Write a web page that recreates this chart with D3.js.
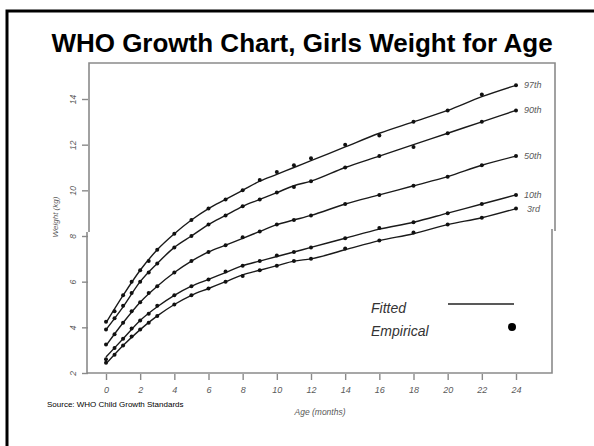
<!DOCTYPE html>
<html>
<head>
<meta charset="utf-8">
<script src="https://cdn.jsdelivr.net/npm/d3@7"></script>
<style>
  body { margin: 0; background: #fff; }
  svg { display: block; font-family: "Liberation Sans", Arial, sans-serif; }
</style>
</head>
<body>
<div id="chart"></div>
<script>
// fitted centile curves (kg)
const fitAges = [0, 1, 2, 3, 4, 5, 6, 7, 8, 9, 10, 11, 12, 14, 16, 18, 20, 22, 24];
const fit3  = [2.4, 3.2, 3.9, 4.5, 5.0, 5.4, 5.7, 6.0, 6.3, 6.5, 6.7, 6.9, 7.0, 7.4, 7.8, 8.1, 8.5, 8.8, 9.2];
const fit10 = [2.7, 3.5, 4.3, 4.9, 5.4, 5.8, 6.1, 6.4, 6.7, 6.9, 7.1, 7.3, 7.5, 7.9, 8.3, 8.6, 9.0, 9.4, 9.8];
const fit50 = [3.2, 4.2, 5.1, 5.8, 6.4, 6.9, 7.3, 7.6, 7.9, 8.2, 8.5, 8.7, 8.9, 9.4, 9.8, 10.2, 10.6, 11.1, 11.5];
const fit90 = [3.9, 4.9, 6.0, 6.8, 7.5, 8.0, 8.5, 8.9, 9.3, 9.6, 9.9, 10.2, 10.4, 11.0, 11.5, 12.0, 12.5, 13.0, 13.5];
const fit97 = [4.2, 5.4, 6.5, 7.4, 8.1, 8.7, 9.2, 9.6, 10.0, 10.4, 10.7, 11.0, 11.3, 11.9, 12.5, 13.0, 13.5, 14.1, 14.6];

// empirical centiles (dots)
const empAges = [0, 0.5, 1, 1.5, 2, 2.5, 3, 4, 5, 6, 7, 8, 9, 10, 11, 12, 14, 16, 18, 20, 22, 24];
const emp3  = [2.45, 2.8, 3.2, 3.6, 3.9, 4.2, 4.5, 5.0, 5.4, 5.7, 6.0, 6.25, 6.5, 6.7, 6.9, 7.0, 7.45, 7.8, 8.15, 8.5, 8.8, 9.2];
const emp10 = [2.6, 3.1, 3.5, 3.95, 4.3, 4.6, 4.95, 5.4, 5.8, 6.1, 6.45, 6.7, 6.9, 7.15, 7.3, 7.5, 7.9, 8.35, 8.6, 9.0, 9.4, 9.8];
const emp50 = [3.25, 3.7, 4.2, 4.7, 5.1, 5.5, 5.8, 6.4, 6.9, 7.3, 7.6, 7.95, 8.2, 8.5, 8.7, 8.9, 9.4, 9.8, 10.2, 10.6, 11.1, 11.5];
const emp90 = [3.9, 4.4, 4.95, 5.5, 6.0, 6.4, 6.8, 7.5, 8.0, 8.5, 8.9, 9.3, 9.6, 9.9, 10.15, 10.4, 11.0, 11.5, 11.9, 12.5, 13.0, 13.5];
const emp97 = [4.25, 4.7, 5.4, 6.0, 6.5, 6.9, 7.4, 8.1, 8.7, 9.2, 9.6, 10.0, 10.45, 10.8, 11.1, 11.4, 12.0, 12.4, 13.0, 13.5, 14.2, 14.6];

const centileLabels = ['97th', '90th', '50th', '10th', '3rd'];
const xTicks = [0, 2, 4, 6, 8, 10, 12, 14, 16, 18, 20, 22, 24];
const yTicks = [2, 4, 6, 8, 10, 12, 14];

const series = [
  { name: centileLabels[0], fit: fit97, emp: emp97 },
  { name: centileLabels[1], fit: fit90, emp: emp90 },
  { name: centileLabels[2], fit: fit50, emp: emp50 },
  { name: centileLabels[3], fit: fit10, emp: emp10 },
  { name: centileLabels[4], fit: fit3,  emp: emp3 }
];

const width = 594, height = 446;
const axisGrey = '#8a8a8a';
const textGrey = '#5a5a5a';

const svg = d3.select('#chart').append('svg')
  .attr('width', width)
  .attr('height', height);

// slide frame
svg.append('rect')
  .attr('x', 7).attr('y', 11)
  .attr('width', 700).attr('height', 700)
  .attr('fill', 'none')
  .attr('stroke', '#000')
  .attr('stroke-width', 3);

const title = svg.append('text')
  .attr('x', 302).attr('y', 52)
  .attr('text-anchor', 'middle')
  .attr('font-size', 26)
  .attr('font-weight', 'bold')
  .attr('fill', '#000')
  .text('WHO Growth Chart, Girls Weight for Age');

const x = d3.scaleLinear().domain([0, 24]).range([106, 516]);
const y = d3.scaleLinear().domain([2, 14]).range([373, 99]);

// plot frame (scanned figure, slightly misaligned pieces)
const frame = svg.append('g')
  .attr('fill', 'none')
  .attr('stroke', axisGrey)
  .attr('stroke-width', 1.6);
frame.append('path').attr('d', 'M89,232 V63 H555 V231');
frame.append('path').attr('d', 'M552,229 V373 H87 V232');

// axes
const yAxis = svg.append('g')
  .attr('transform', 'translate(88,0)')
  .call(d3.axisLeft(y).tickValues(yTicks).tickSize(6).tickSizeOuter(0));
yAxis.select('.domain').remove();
yAxis.selectAll('line').attr('stroke', axisGrey).attr('stroke-width', 1.4);
yAxis.selectAll('text')
  .attr('x', null).attr('dy', null)
  .attr('text-anchor', 'middle')
  .attr('transform', 'translate(-12,0) rotate(-90)')
  .attr('font-size', 8.5)
  .attr('font-style', 'italic')
  .attr('fill', textGrey);

const xAxis = svg.append('g')
  .attr('transform', 'translate(0,374)')
  .call(d3.axisBottom(x).tickValues(xTicks).tickSize(6).tickPadding(7).tickSizeOuter(0));
xAxis.select('.domain').remove();
xAxis.selectAll('line').attr('stroke', axisGrey).attr('stroke-width', 1.4);
xAxis.selectAll('text')
  .attr('font-size', 9)
  .attr('font-style', 'italic')
  .attr('fill', textGrey);

svg.append('text')
  .attr('transform', 'translate(58,217) rotate(-90)')
  .attr('text-anchor', 'middle')
  .attr('font-size', 8)
  .attr('font-style', 'italic')
  .attr('fill', textGrey)
  .text('Weight (kg)');

svg.append('text')
  .attr('x', 320).attr('y', 415)
  .attr('text-anchor', 'middle')
  .attr('font-size', 8.5)
  .attr('font-style', 'italic')
  .attr('fill', textGrey)
  .text('Age (months)');

svg.append('text')
  .attr('x', 47).attr('y', 407)
  .attr('font-size', 8)
  .attr('fill', '#000')
  .text('Source:  WHO Child Growth Standards');

// curves
const line = d3.line()
  .x(d => x(d[0]))
  .y(d => y(d[1]))
  .curve(d3.curveMonotoneX);

const plot = svg.append('g');

series.forEach(s => {
  plot.append('path')
    .datum(fitAges.map((a, i) => [a, s.fit[i]]))
    .attr('d', line)
    .attr('fill', 'none')
    .attr('stroke', '#1a1a1a')
    .attr('stroke-width', 1.4);

  plot.selectAll(null)
    .data(empAges.map((a, i) => [a, s.emp[i]]))
    .enter()
    .append('circle')
    .attr('cx', d => x(d[0]))
    .attr('cy', d => y(d[1]))
    .attr('r', 2)
    .attr('fill', '#111');

  const last = s.fit[s.fit.length - 1];
  plot.append('text')
    .attr('x', x(24) + (s.name === '3rd' ? 11 : 8))
    .attr('y', y(last) + 3)
    .attr('font-size', 9)
    .attr('font-style', 'italic')
    .attr('fill', textGrey)
    .text(s.name);
});

// legend
const legend = svg.append('g');
legend.append('text')
  .attr('x', 371).attr('y', 313)
  .attr('font-size', 14)
  .attr('font-style', 'italic')
  .attr('fill', '#333')
  .text('Fitted');
legend.append('text')
  .attr('x', 371).attr('y', 336)
  .attr('font-size', 14)
  .attr('font-style', 'italic')
  .attr('fill', '#333')
  .text('Empirical');
legend.append('line')
  .attr('x1', 448).attr('x2', 514)
  .attr('y1', 304).attr('y2', 304)
  .attr('stroke', '#222')
  .attr('stroke-width', 1.3);
legend.append('circle')
  .attr('cx', 512).attr('cy', 327)
  .attr('r', 4)
  .attr('fill', '#000');
</script>
</body>
</html>
